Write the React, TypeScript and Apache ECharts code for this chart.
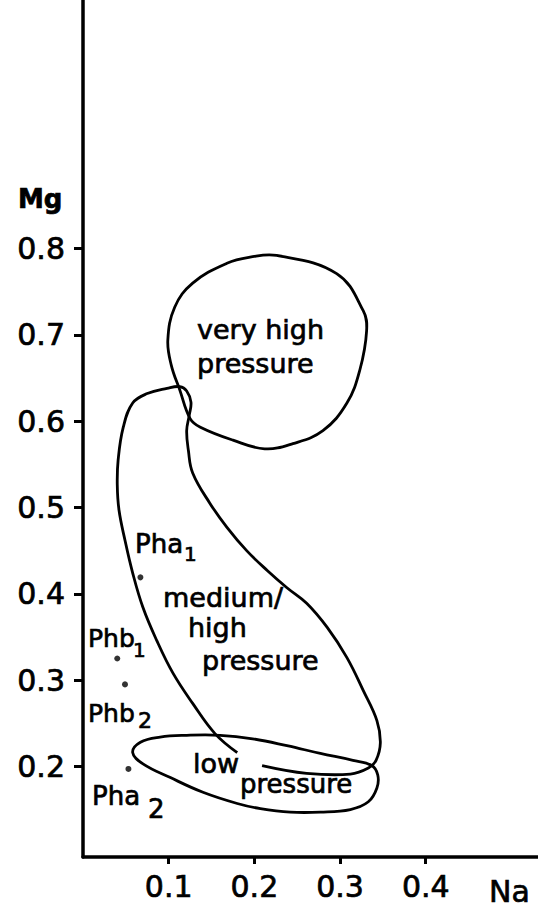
import React, { useEffect, useRef } from "react";
import * as echarts from "echarts";

// Axis tick values
const xTicks = [0.1, 0.2, 0.3, 0.4];
const yTicks = [0.2, 0.3, 0.4, 0.5, 0.6, 0.7, 0.8];

// Field outlines, [Na, Mg]
const veryHighPressure = [
  [0.226, 0.792], [0.296, 0.771], [0.327, 0.728], [0.331, 0.705], [0.323, 0.659],
  [0.308, 0.621], [0.28, 0.589], [0.245, 0.574], [0.212, 0.568], [0.175, 0.578],
  [0.137, 0.593], [0.125, 0.603], [0.113, 0.636], [0.103, 0.665], [0.099, 0.694],
  [0.107, 0.732], [0.128, 0.76], [0.168, 0.783], [0.195, 0.79],
];

const mediumHighPressure = [
  [0.18, 0.216], [0.154, 0.238], [0.128, 0.273], [0.105, 0.308], [0.086, 0.346],
  [0.07, 0.384], [0.058, 0.424], [0.049, 0.462], [0.042, 0.497], [0.04, 0.526],
  [0.041, 0.555], [0.047, 0.593], [0.058, 0.621], [0.075, 0.632], [0.098, 0.638],
  [0.113, 0.64], [0.121, 0.635], [0.126, 0.622], [0.124, 0.607], [0.121, 0.589],
  [0.123, 0.566], [0.128, 0.54], [0.148, 0.505], [0.168, 0.477], [0.191, 0.45],
  [0.215, 0.427], [0.238, 0.407], [0.261, 0.389], [0.285, 0.361], [0.308, 0.326],
  [0.327, 0.288], [0.343, 0.253], [0.347, 0.227], [0.342, 0.207], [0.333, 0.198],
  [0.312, 0.191], [0.261, 0.192], [0.209, 0.201],
];

const lowPressure = [
  [0.058, 0.216], [0.067, 0.228], [0.09, 0.234], [0.121, 0.236], [0.16, 0.236],
  [0.198, 0.232], [0.238, 0.224], [0.277, 0.215], [0.315, 0.207], [0.337, 0.201],
  [0.344, 0.19], [0.343, 0.175], [0.333, 0.159], [0.312, 0.15], [0.277, 0.147],
  [0.242, 0.147], [0.207, 0.151], [0.18, 0.157], [0.14, 0.17], [0.102, 0.187],
  [0.07, 0.203],
];

// Sample points
const sampleNames = ["Pha1", "Phb1", "Phb2", "Pha2"];
const sampleNa = [0.067, 0.04, 0.049, 0.053];
const sampleMg = [0.419, 0.325, 0.295, 0.197];

const FONT = "DejaVu Sans, sans-serif";

function outlineSeries(points: number[][], closed: boolean) {
  return {
    type: "custom",
    coordinateSystem: "cartesian2d",
    silent: true,
    clip: false,
    data: [points[0]],
    renderItem: (_params: any, api: any) => ({
      type: closed ? "polygon" : "polyline",
      shape: {
        points: points.map((p) => api.coord(p)),
        smooth: 0.4,
      },
      style: { fill: "none", stroke: "#000", lineWidth: 2.8 },
    }),
  };
}

function txt(text: string, x: number, baseline: number, size: number, weight = "normal") {
  return {
    type: "text",
    x,
    y: baseline - 0.35 * size,
    silent: true,
    style: {
      text,
      font: `${weight} ${size}px ${FONT}`,
      fill: "#000",
      stroke: "#000",
      lineWidth: 0.7,
      align: "left",
      verticalAlign: "middle",
      textAlign: "left",
      textVerticalAlign: "middle",
    },
  };
}

export default function App() {
  const ref = useRef<HTMLDivElement>(null);
  useEffect(() => {
    if (!ref.current) return;
    const chart = echarts.init(ref.current, undefined, { renderer: "svg" });
    const labelStyle = {
      fontSize: 30,
      fontFamily: FONT,
      color: "#000",
      textBorderColor: "#000",
      textBorderWidth: 0.7,
    };
    const option: any = {
      animation: false,
      backgroundColor: "#fff",
      grid: { left: 83, top: 0, width: 455, height: 857, containLabel: false, outerBoundsMode: "none" },
      xAxis: {
        type: "value",
        min: 0,
        max: 0.531,
        axisLine: { onZero: false, lineStyle: { color: "#000", width: 3.5 } },
        axisTick: { customValues: xTicks, length: 7, lineStyle: { color: "#000", width: 3 } },
        axisLabel: {
          customValues: xTicks,
          formatter: (v: number) => v.toFixed(1),
          margin: 14,
          ...labelStyle,
        },
        splitLine: { show: false },
      },
      yAxis: {
        type: "value",
        min: 0.095,
        max: 1.088,
        axisLine: { onZero: false, lineStyle: { color: "#000", width: 3.5 } },
        axisTick: { customValues: yTicks, length: 9, lineStyle: { color: "#000", width: 3 } },
        axisLabel: {
          customValues: yTicks,
          formatter: (v: number) => v.toFixed(1),
          margin: 18,
          ...labelStyle,
        },
        splitLine: { show: false },
      },
      series: [
        outlineSeries(veryHighPressure, true),
        outlineSeries(mediumHighPressure, false),
        outlineSeries(lowPressure, true),
        {
          type: "scatter",
          name: "samples",
          symbol: "circle",
          symbolSize: 6,
          itemStyle: { color: "#000" },
          data: sampleNames.map((n, i) => ({ name: n, value: [sampleNa[i], sampleMg[i]] })),
        },
      ],
      graphic: [
        txt("Mg", 18, 208, 26, "bold"),
        txt("Na", 489, 902, 30),
        txt("very high", 197, 339, 27),
        txt("pressure", 197, 373, 27),
        txt("medium/", 163, 607, 27),
        txt("high", 188, 637, 27),
        txt("pressure", 202, 670, 27),
        txt("low", 193, 773, 27),
        txt("pressure", 240, 793, 26),
        txt("Pha", 135, 553, 26),
        txt("1", 184, 561, 20),
        txt("Phb", 88, 647, 25),
        txt("1", 133, 657, 20),
        txt("Phb", 88, 722, 25),
        txt("2", 138, 728, 22),
        txt("Pha", 92, 805, 26),
        txt("2", 148, 818, 26),
      ],
    };
    chart.setOption(option);
    return () => chart.dispose();
  }, []);
  return (
    <div
      ref={ref}
      style={{ position: "absolute", left: 0, top: 0, width: 538, height: 912, background: "#fff" }}
    />
  );
}
